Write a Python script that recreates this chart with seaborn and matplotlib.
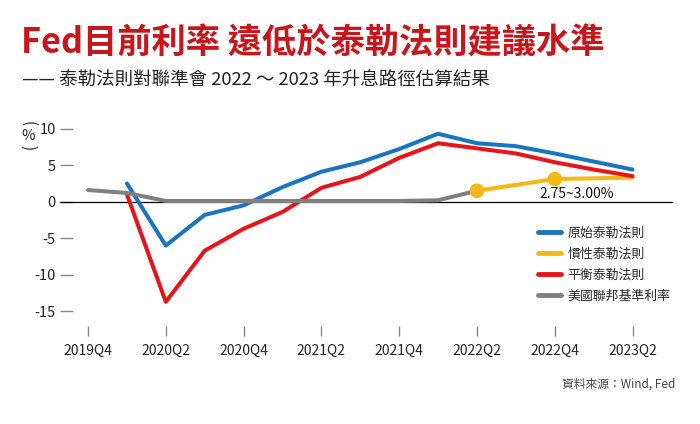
import numpy as np
import pandas as pd
import seaborn as sns
from matplotlib import pyplot as plt
from matplotlib.lines import Line2D

quarters = ['2019Q4', '2020Q1', '2020Q2', '2020Q3', '2020Q4', '2021Q1', '2021Q2', '2021Q3',
            '2021Q4', '2022Q1', '2022Q2', '2022Q3', '2022Q4', '2023Q1', '2023Q2']
tick_labels = ['2019Q4', '2020Q2', '2020Q4', '2021Q2', '2021Q4', '2022Q2', '2022Q4', '2023Q2']

nan = np.nan
original_taylor = [nan, 2.5, -6.0, -1.8, -0.5, 2.0, 4.1, 5.4, 7.2, 9.3, 8.0, 7.6, 6.6, 5.5, 4.4]
inertial_taylor = [nan, nan, nan, nan, nan, nan, nan, nan, nan, nan, 1.5, 2.3, 3.1, 3.2, 3.3]
balanced_taylor = [nan, 1.0, -13.7, -6.7, -3.7, -1.4, 1.9, 3.4, 6.0, 8.0, 7.3, 6.6, 5.4, 4.4, 3.5]
fed_rate = [1.6, 1.2, 0.1, 0.1, 0.1, 0.1, 0.1, 0.1, 0.1, 0.2, 1.5, nan, nan, nan, nan]

series_names = ['原始泰勒法則', '慣性泰勒法則', '平衡泰勒法則', '美國聯邦基準利率']
colors = ['#1a75c0', '#f6b819', '#e8141b', '#808080']
marked = ['2022Q2', '2022Q4']
note = '2.75~3.00%'

sns.set_theme(style='white')
plt.rcParams['font.family'] = ['Noto Sans CJK TC', 'DejaVu Sans']
plt.rcParams['axes.unicode_minus'] = False

x = np.arange(len(quarters))
df = pd.DataFrame({
    'x': np.tile(x, 4),
    'value': original_taylor + inertial_taylor + balanced_taylor + fed_rate,
    'series': np.repeat(series_names, len(quarters)),
}).dropna()

fig = plt.figure(figsize=(7, 4.24), dpi=100)
ax = fig.add_axes([60 / 700, 1 - 326 / 424, 613 / 700, 212 / 424])

ax.axhline(0, color='black', lw=0.9, zorder=1)
for name, col, z in zip(series_names, colors, [4, 3, 3, 5]):
    sns.lineplot(data=df[df['series'] == name], x='x', y='value', color=col, lw=2.9,
                 ax=ax, zorder=z, legend=False)

yel = df[(df['series'] == '慣性泰勒法則') & df['x'].isin([quarters.index(q) for q in marked])]
sns.scatterplot(data=yel, x='x', y='value', color=colors[1], s=110, edgecolor='none',
                ax=ax, zorder=6, legend=False)

ax.text(12.57, 1.0, note, ha='center', va='center', fontsize=10, color='#111111')

ax.set_xlim(-0.72, 15.04)
ax.set_ylim(-17, 12)
ax.set_yticks([10, 5, 0, -5, -10, -15])
ax.set_xticks([quarters.index(q) for q in tick_labels])
ax.set_xticklabels(tick_labels)
ax.set_xlabel('')
ax.set_ylabel('')
for s in ax.spines.values():
    s.set_visible(False)
ax.tick_params(axis='y', direction='in', length=9, width=1, color='#888888', pad=3,
               labelsize=10.5, labelcolor='#222222', left=True)
ax.tick_params(axis='x', direction='out', length=7, width=1, color='#888888', pad=6,
               labelsize=10, labelcolor='#222222', bottom=True)

handles = [Line2D([0], [0], color=c, lw=3.5) for c in colors]
ax.legend(handles, series_names, loc='upper left', bbox_to_anchor=(0.76, 0.525), frameon=False,
          fontsize=9.3, handlelength=1.8, handletextpad=0.5, labelspacing=0.62)

fig.text(0.03, 0.899, 'Fed目前利率 遠低於泰勒法則建議水準', fontsize=24.7, fontweight='bold',
         color='#c8161d', va='center', ha='left')
fig.text(0.031, 0.81, '—— 泰勒法則對聯準會 2022 ～ 2023 年升息路徑估算結果', fontsize=13.3,
         color='#222222', va='center', ha='left')
# vertical "(%)"
fig.text(0.04, 1 - 124 / 424, '(', rotation=-90, fontsize=11, color='#222222', va='center', ha='center')
fig.text(0.04, 1 - 136 / 424, '%', fontsize=10.5, color='#222222', va='center', ha='center')
fig.text(0.04, 1 - 148 / 424, ')', rotation=-90, fontsize=11, color='#222222', va='center', ha='center')
fig.text(0.965, 0.094, '資料來源：Wind, Fed', fontsize=8.5, color='#444444', va='center', ha='right')

fig.savefig('out.png', dpi=100)
